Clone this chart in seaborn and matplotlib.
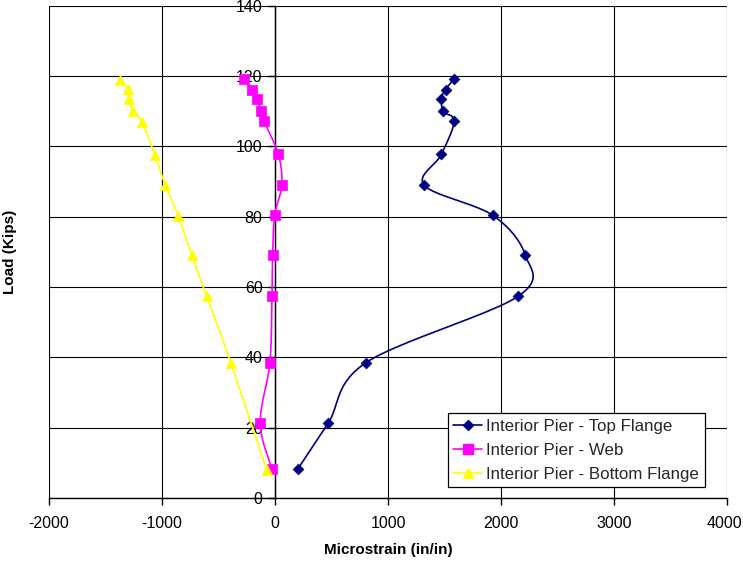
import numpy as np
import pandas as pd
import matplotlib
matplotlib.use("Agg")
import matplotlib.pyplot as plt
from matplotlib.lines import Line2D
from matplotlib.transforms import ScaledTranslation
import seaborn as sns

# Applied load (kips) at each recorded step
loads = [8.3, 21.4, 38.5, 57.3, 69.1, 80.4, 88.9, 97.7, 107.1, 109.9, 113.5, 116.1, 119.0]
bottom_loads = [8.1, 38.4, 57.3, 69.1, 80.3, 88.9, 97.5, 107.0, 109.9, 113.5, 116.2, 118.9]

# Measured microstrain at the interior pier gauges
top_flange = [203, 473, 806, 2149, 2214, 1926, 1321, 1473, 1586, 1491, 1473, 1509, 1580]
web = [-29, -131, -45, -27, -21, -3, 60, 30, -98, -125, -155, -205, -274]
bottom_flange = [-74, -390, -604, -738, -857, -970, -1062, -1179, -1256, -1292, -1301, -1372]

series_names = ["Interior Pier - Top Flange", "Interior Pier - Web",
                "Interior Pier - Bottom Flange"]
series_colors = ["#000080", "#FF00FF", "#FFFF00"]
series_markers = ["D", "s", "^"]
marker_sizes = [5.5, 7, 7.5]

x_ticks = [-2000, -1000, 0, 1000, 2000, 3000, 4000]
y_ticks = [0, 20, 40, 60, 80, 100, 120, 140]

XMIN, XMAX, YMIN, YMAX = -2000, 4000, 0, 140
AX_W, AX_H = 678.0, 492.4  # plot area size in pixels, used to smooth in screen space


def smooth_curve(xs, ys, steps=24):
    """Catmull-Rom style cubic Bezier through every point (screen-space)."""
    u = (np.asarray(xs, float) - XMIN) / (XMAX - XMIN) * AX_W
    v = (np.asarray(ys, float) - YMIN) / (YMAX - YMIN) * AX_H
    pts = np.column_stack([u, v])
    padded = np.vstack([pts[0], pts, pts[-1]])
    t = np.linspace(0, 1, steps)[:, None]
    out = [pts[:1]]
    for i in range(len(pts) - 1):
        p0, p1, p2, p3 = padded[i], padded[i + 1], padded[i + 2], padded[i + 3]
        c1 = p1 + (p2 - p0) / 6.0
        c2 = p2 - (p3 - p1) / 6.0
        seg = ((1 - t) ** 3) * p1 + 3 * ((1 - t) ** 2) * t * c1 \
            + 3 * (1 - t) * t ** 2 * c2 + t ** 3 * p2
        out.append(seg[1:])
    arr = np.vstack(out)
    sx = arr[:, 0] / AX_W * (XMAX - XMIN) + XMIN
    sy = arr[:, 1] / AX_H * (YMAX - YMIN) + YMIN
    return sx, sy


sns.set_theme(style="white")
plt.rcParams["font.family"] = ["Liberation Sans", "DejaVu Sans"]

fig = plt.figure(figsize=(7.43, 5.62), dpi=100)
ax = fig.add_axes([49 / 743, 64 / 562, 678 / 743, 492.4 / 562])

datasets = [(top_flange, loads), (web, loads), (bottom_flange, bottom_loads)]
handles = []
for k, ((xs, ys), name, col, mk, ms) in enumerate(
        zip(datasets, series_names, series_colors, series_markers, marker_sizes)):
    sx, sy = smooth_curve(xs, ys)
    curve = pd.DataFrame({"strain": sx, "load": sy})
    sns.lineplot(data=curve, x="strain", y="load", sort=False, estimator=None,
                 color=col, linewidth=1.2, ax=ax, zorder=3 + k)
    pts = pd.DataFrame({"strain": xs, "load": ys})
    sns.scatterplot(data=pts, x="strain", y="load", marker=mk, s=ms ** 2,
                    color=col, edgecolor=col, linewidth=0.5, ax=ax,
                    zorder=3.5 + k, legend=False)
    handles.append(Line2D([0], [0], color=col, linewidth=1.2, marker=mk,
                          markersize=ms, markerfacecolor=col,
                          markeredgecolor=col, label=name))

ax.set_xlim(XMIN, XMAX)
ax.set_ylim(YMIN, YMAX)
ax.set_xticks(x_ticks)
ax.set_yticks(y_ticks)
ax.set_xticklabels([str(v) for v in x_ticks])
ax.set_yticklabels([str(v) for v in y_ticks])

ax.grid(True, color="#000000", linewidth=0.8)
ax.set_axisbelow(True)

for side in ("top", "right"):
    ax.spines[side].set_visible(False)
ax.spines["left"].set_position(("data", 0))
ax.spines["left"].set_color("#000000")
ax.spines["left"].set_linewidth(1.0)
ax.spines["bottom"].set_color("#000000")
ax.spines["bottom"].set_linewidth(1.0)

ax.tick_params(axis="both", which="major", direction="out", length=5,
               width=1.0, color="#000000", labelsize=11.5, labelcolor="#000000")
ax.tick_params(axis="x", pad=8)
ax.tick_params(axis="y", pad=4)
ax.xaxis.set_ticks_position("bottom")
ax.yaxis.set_ticks_position("left")

# keep the right-most x label inside the figure edge
last_label = ax.xaxis.get_major_ticks()[-1].label1
last_label.set_transform(last_label.get_transform()
                         + ScaledTranslation(-3 / 100, 0, fig.dpi_scale_trans))

ax.set_xlabel("Microstrain (in/in)", fontsize=11, fontweight="bold", color="#000000")
ax.set_ylabel("Load (Kips)", fontsize=11, fontweight="bold", color="#000000")
ax.xaxis.set_label_coords(0.5, -0.092)
ax.yaxis.set_label_coords(-0.047, 0.5)

leg = ax.legend(handles=handles, loc="upper left",
                bbox_to_anchor=(447.7 / 743, (562 - 413.3) / 562),
                bbox_transform=fig.transFigure, fontsize=12.2, frameon=True,
                fancybox=False, edgecolor="#000000", facecolor="#FFFFFF",
                framealpha=1.0, handlelength=1.7, handletextpad=0.25,
                labelspacing=0.52, borderpad=0.33, borderaxespad=0.0,
                numpoints=1)
leg.get_frame().set_linewidth(0.9)
leg.set_zorder(10)

fig.savefig("out.png", dpi=100, facecolor="white")
